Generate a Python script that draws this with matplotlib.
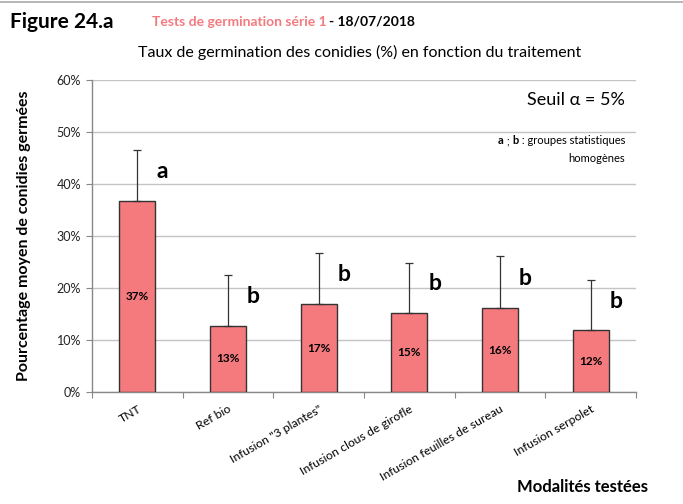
import matplotlib
matplotlib.use("Agg")
import matplotlib.pyplot as plt
from matplotlib.lines import Line2D
import numpy as np

categories = ["TNT", "Ref bio", 'Infusion "3 plantes"', "Infusion clous de girofle",
              "Infusion feuilles de sureau", "Infusion serpolet"]
means = [36.7, 12.7, 16.9, 15.1, 16.1, 11.9]
errors = [9.9, 9.8, 9.9, 9.8, 10.0, 9.6]
value_labels = ["37%", "13%", "17%", "15%", "16%", "12%"]
groups = ["a", "b", "b", "b", "b", "b"]
yticks = [0, 10, 20, 30, 40, 50, 60]

FONT = "Lato"
plt.rcParams["font.family"] = [FONT, "DejaVu Sans"]

fig = plt.figure(figsize=(6.83, 5.04), dpi=100)
ax = fig.add_axes([92 / 683, 1 - 392 / 504, (636 - 92) / 683, (392 - 80) / 504])

x = np.arange(len(categories))
ax.bar(x, means, width=0.4, color="#F47A7E", edgecolor="#333333", linewidth=1.0, zorder=3)
ax.errorbar(x, means, yerr=[np.zeros(len(errors)), errors], fmt="none",
            ecolor="#333333", elinewidth=0.9, capsize=3, capthick=0.9, zorder=4)

for xi, m, lab in zip(x, means, value_labels):
    ax.text(xi, m / 2, lab, ha="center", va="center", fontsize=8.5, fontweight="bold", zorder=5)

for xi, m, e, g in zip(x, means, errors, groups):
    ax.text(xi + 0.28, m + 0.58 * e, g, ha="center", va="center", fontsize=16.5,
            fontweight="bold", zorder=5)

ax.set_xlim(-0.5, len(categories) - 0.5)
ax.set_ylim(0, 60)
ax.set_yticks(yticks)
ax.set_yticklabels([f"{v}%" for v in yticks], fontsize=9, color="#222222")
ax.yaxis.grid(True, color="#c4c4c4", linewidth=1.0, zorder=0)
ax.set_axisbelow(True)

ax.set_xticks(np.arange(len(categories) + 1) - 0.5)
ax.set_xticklabels([])
ax.set_xticks(x, minor=True)
ax.set_xticklabels(categories, minor=True, rotation=30, ha="right",
                   rotation_mode="anchor", fontsize=8.8)
ax.tick_params(axis="x", which="minor", length=0, pad=8)
ax.tick_params(axis="x", which="major", length=4, color="#888888", direction="out")
ax.tick_params(axis="y", length=4, color="#888888", direction="out", pad=4)

for s in ["top", "right"]:
    ax.spines[s].set_visible(False)
for s in ["left", "bottom"]:
    ax.spines[s].set_color("#888888")
    ax.spines[s].set_linewidth(1.0)

# Titles
fig.text(10 / 683, 1 - 22 / 504, "Figure 24.a", fontsize=15, fontweight="bold",
         ha="left", va="center")
t1 = fig.text(152 / 683, 1 - 22 / 504, "Tests de germination série 1", fontsize=10,
              fontweight="bold", color="#F47A7E", ha="left", va="center")
fig.canvas.draw()
r = fig.canvas.get_renderer()
bb = t1.get_window_extent(r)
fig.text((bb.x1 + 2) / 683, 1 - 22 / 504, "- 18/07/2018", fontsize=10,
         fontweight="bold", color="black", ha="left", va="center")
fig.text(360 / 683, 1 - 52 / 504, "Taux de germination des conidies (%) en fonction du traitement",
         fontsize=11.5, ha="center", va="center")

ax.set_ylabel("Pourcentage moyen de conidies germées", fontsize=11.5, fontweight="bold")
ax.yaxis.set_label_coords(-61 / 544, 0.5)
fig.text(648 / 683, 1 - 487 / 504, "Modalités testées", fontsize=12, fontweight="bold",
         ha="right", va="center")

# Annotations
fig.text(625 / 683, 1 - 100 / 504, "Seuil α = 5%", fontsize=13, ha="right", va="center")
xr = 625
ty = 1 - 141 / 504
tn = fig.text(xr / 683, ty, " : groupes statistiques", fontsize=8, ha="right", va="center")
fig.canvas.draw()
x0 = tn.get_window_extent(r).x0
tb = fig.text(x0 / 683, ty, "b", fontsize=8, fontweight="bold", ha="right", va="center")
fig.canvas.draw()
x0 = tb.get_window_extent(r).x0
ts = fig.text(x0 / 683, ty, " ; ", fontsize=8, ha="right", va="center")
fig.canvas.draw()
x0 = ts.get_window_extent(r).x0
fig.text(x0 / 683, ty, "a", fontsize=8, fontweight="bold", ha="right", va="center")
fig.text(xr / 683, 1 - 158 / 504, "homogènes", fontsize=8, ha="right", va="center")

# top border line
fig.add_artist(Line2D([0, 1], [1 - 1.5 / 504, 1 - 1.5 / 504], transform=fig.transFigure,
                      color="#aaaaaa", linewidth=1.2))

fig.savefig("out.png", dpi=100)
